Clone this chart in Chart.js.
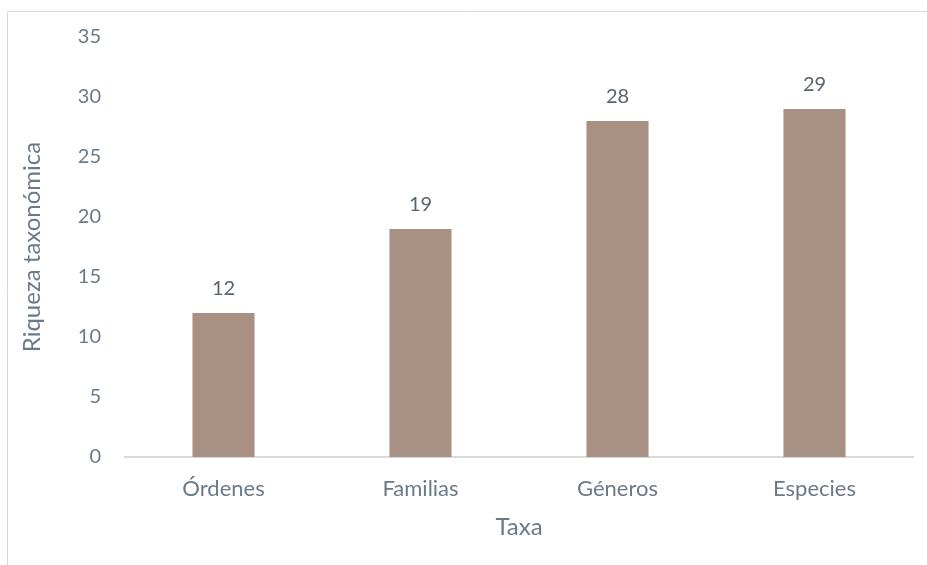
<!DOCTYPE html>
<html><head><meta charset="utf-8">
<script src="https://cdn.jsdelivr.net/npm/chart.js@4/dist/chart.umd.min.js"></script>
<style>html,body{margin:0;padding:0;background:#fff;}#wrap{width:927px;height:565px;position:relative;}</style>
</head><body><div id="wrap"><canvas id="c" width="927" height="565"></canvas></div>
<script>
const categories = ["Órdenes", "Familias", "Géneros", "Especies"];
const values = [12, 19, 28, 29];
const yTicks = [0, 5, 10, 15, 20, 25, 30, 35];
const yTitle = "Riqueza taxonómica";
const xTitle = "Taxa";

const FONT = "Lato, 'Open Sans', sans-serif";
const tickColor = "#6A7A88";
const labelColor = "#58646E";

const frame = {
  id: 'frame',
  beforeDraw(chart) {
    const ctx = chart.ctx;
    ctx.save();
    ctx.strokeStyle = '#D9D9D9';
    ctx.lineWidth = 1;
    ctx.beginPath();
    ctx.moveTo(7.5, 565);
    ctx.lineTo(7.5, 11.5);
    ctx.lineTo(927, 11.5);
    ctx.stroke();
    ctx.restore();
  }
};
const dataLabels = {
  id: 'dataLabels',
  afterDatasetsDraw(chart) {
    const ctx = chart.ctx;
    const meta = chart.getDatasetMeta(0);
    ctx.save();
    ctx.font = "20px " + FONT;
    ctx.fillStyle = labelColor;
    ctx.textAlign = 'center';
    ctx.textBaseline = 'middle';
    meta.data.forEach((bar, i) => {
      ctx.fillText(String(chart.data.datasets[0].data[i]), bar.x, bar.y - 24);
    });
    ctx.restore();
  }
};

new Chart(document.getElementById('c'), {
  type: 'bar',
  data: {
    labels: categories,
    datasets: [{
      data: values,
      backgroundColor: '#A89083',
      categoryPercentage: 1,
      barPercentage: 0.315
    }]
  },
  options: {
    responsive: false,
    animation: false,
    devicePixelRatio: 1,
    layout: { padding: { left: 10, right: 14, top: 37, bottom: 23 } },
    plugins: { legend: { display: false }, tooltip: { enabled: false } },
    scales: {
      x: {
        grid: { display: false, drawTicks: false },
        border: { display: true, color: '#D9D9D9', width: 2 },
        ticks: { color: tickColor, font: { family: FONT, size: 22 }, padding: 19 },
        title: { display: true, text: xTitle, color: tickColor, font: { family: FONT, size: 24 }, padding: { top: 10, bottom: 0 } },
        afterFit(s) { s.height = 85; }
      },
      y: {
        min: 0, max: 35,
        afterBuildTicks(s) { s.ticks = yTicks.map(v => ({ value: v })); },
        grid: { display: false, drawTicks: false },
        border: { display: false },
        ticks: { color: tickColor, font: { family: FONT, size: 20 }, padding: 24 },
        title: { display: true, text: yTitle, color: tickColor, font: { family: FONT, size: 24 }, padding: { top: 8, bottom: 0 } },
        afterFit(s) { s.width = 115; }
      }
    }
  },
  plugins: [frame, dataLabels]
});
</script></body></html>
